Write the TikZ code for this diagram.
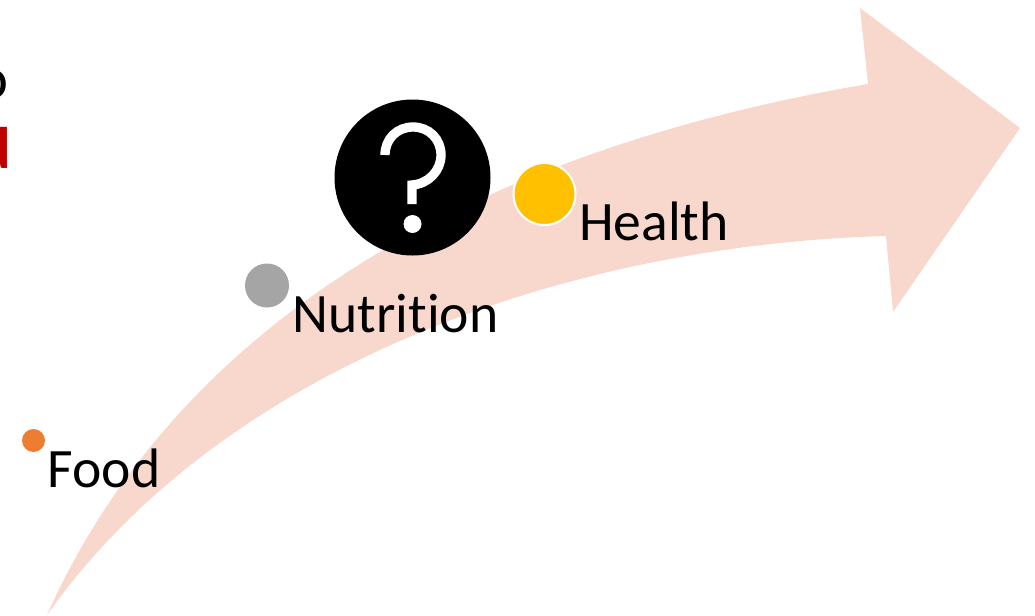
\documentclass[tikz,border=0pt]{standalone}
\usepackage{fontspec}
\setmainfont{Carlito}[Ligatures=NoCommon]
\usetikzlibrary{positioning}
\definecolor{arrowpink}{HTML}{F8D7CD}
\definecolor{foodorange}{HTML}{ED7D31}
\definecolor{nutrigrey}{HTML}{A5A5A5}
\definecolor{healthgold}{HTML}{FFC000}
\definecolor{crimson}{HTML}{C00000}

\begin{document}
\begin{tikzpicture}[
  x=0.75pt, y=-0.75pt,
  stagedot/.style={circle, inner sep=0pt, outer sep=0pt},
  stagelabel/.style={anchor=base west, inner sep=0pt, font=\fontsize{41.7}{46}\selectfont},
  cutlabel/.style={anchor=base east, inner sep=0pt, font=\fontsize{44}{48}\selectfont}
]
  \clip (0,0) rectangle (1035,615);
  % curved arrow
  \fill[arrowpink] (47,615) .. controls (180,318) and (480,150) .. (868,84)
    -- (860,8) -- (1020,128) -- (893,312) -- (886,236)
    .. controls (560,245) and (220,370) .. (47,615) -- cycle;
  % text running off the left edge
  \node[cutlabel] (topline) at (9,98) {o};
  \node[cutlabel, text=crimson] (redline) at (11,168) {\bfseries d};
  % stages
  \node[stagedot, fill=foodorange, minimum size=23pt*0.75] (food) at (33.5,440.5) {};
  \node[stagedot, fill=nutrigrey, minimum size=44pt*0.75] (nutrition) at (267,285.5) {};
  \node[stagedot, fill=healthgold, draw=white, line width=1.5pt, minimum size=62pt*0.75] (health) at (544.5,194) {};
  \node[stagelabel] (foodtext) at (47.5,487) {Food};
  \node[stagelabel] (nutritiontext) at (292.5,332) {Nutrition};
  \node[stagelabel] (healthtext) at (579,240) {Health};
  % question mark
  \node[stagedot, fill=black, minimum size=156pt*0.75] (quest) at (412.5,177.5) {};
  \draw[white, line width=7pt] (385,155) .. controls (385,139) and (397,127) .. (413,127)
    .. controls (429,127) and (441,139) .. (441,155)
    .. controls (441,171) and (428,184) .. (412,185) -- (412,204);
  \node[stagedot, fill=white, minimum size=18pt*0.75] (questdot) at (412.5,224) {};
\end{tikzpicture}
\end{document}
